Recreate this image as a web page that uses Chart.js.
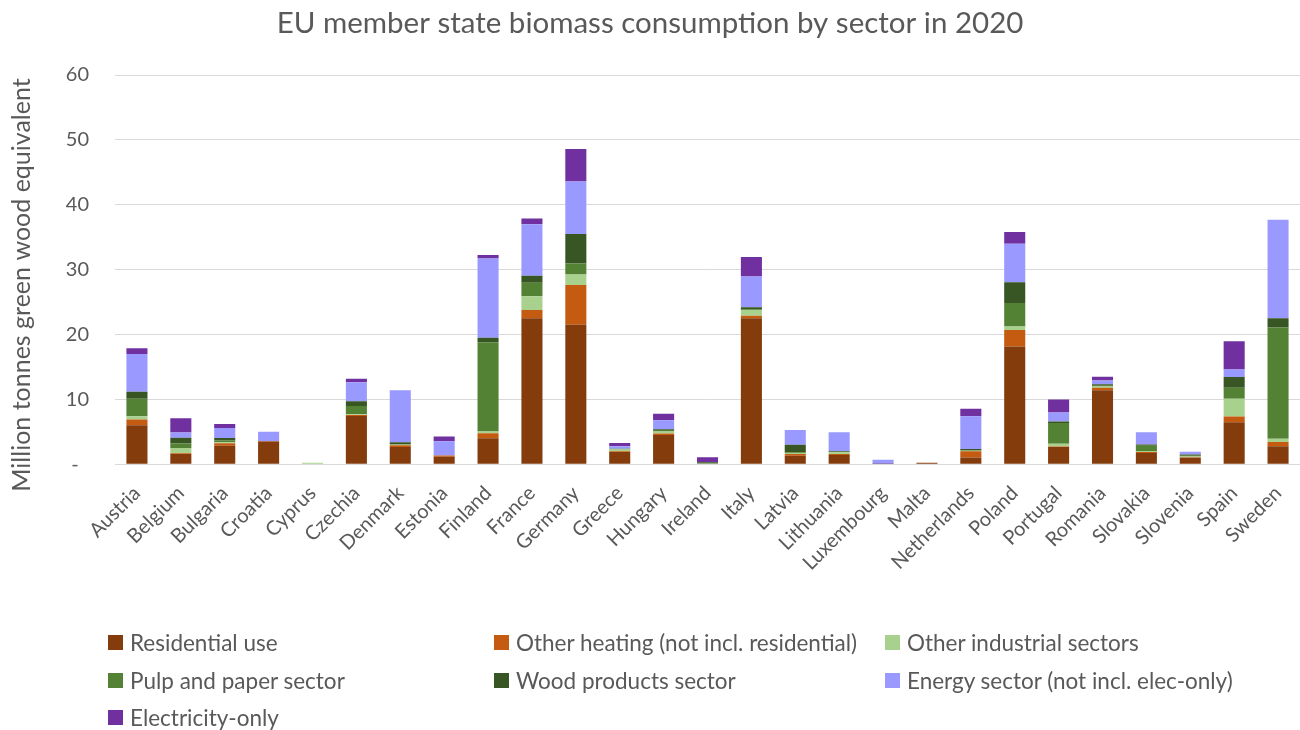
<!DOCTYPE html>
<html>
<head>
<meta charset="utf-8">
<script src="https://cdn.jsdelivr.net/npm/chart.js@4.4.1/dist/chart.umd.min.js"></script>
<style>
  html, body { margin: 0; padding: 0; background: #fff; }
  #wrap { position: relative; width: 1300px; height: 730px; }
  #legend { position: absolute; left: 0; top: 0; width: 1300px; height: 730px; pointer-events: none;
            font-family: Lato, "Open Sans", sans-serif; font-size: 22.5px; color: #595959; }
  .item { position: absolute; display: flex; align-items: center; white-space: nowrap; height: 30px; }
  .box { width: 15px; height: 15px; margin-right: 7px; flex: none; }
</style>
</head>
<body>
<div id="wrap">
  <canvas id="chart" width="1300" height="730"></canvas>
  <div id="legend"></div>
</div>
<script>
const countries = ["Austria","Belgium","Bulgaria","Croatia","Cyprus","Czechia","Denmark","Estonia","Finland","France","Germany","Greece","Hungary","Ireland","Italy","Latvia","Lithuania","Luxembourg","Malta","Netherlands","Poland","Portugal","Romania","Slovakia","Slovenia","Spain","Sweden"];

// Million tonnes green wood equivalent, by sector
const residential     = [6.0, 1.6, 2.85, 3.5, 0.0, 7.45, 2.65, 1.15, 4.0, 22.5, 21.5, 1.9, 4.5, 0.1, 22.5, 1.3, 1.45, 0.05, 0.25, 1.05, 18.15, 2.65, 11.4, 1.75, 1.0, 6.5, 2.8];
const otherHeating    = [0.9, 0.1, 0.4, 0.1, 0.0, 0.15, 0.3, 0.2, 0.8, 1.3, 6.15, 0.1, 0.25, 0.0, 0.4, 0.3, 0.15, 0.0, 0.0, 0.95, 2.55, 0.1, 0.4, 0.15, 0.1, 0.85, 0.65];
const otherIndustrial = [0.5, 0.8, 0.15, 0.0, 0.25, 0.1, 0.05, 0.0, 0.25, 2.1, 1.6, 0.3, 0.3, 0.0, 0.9, 0.15, 0.25, 0.0, 0.0, 0.1, 0.55, 0.4, 0.2, 0.15, 0.1, 2.75, 0.5];
const pulpPaper       = [2.7, 0.7, 0.3, 0.0, 0.0, 1.3, 0.1, 0.0, 13.75, 2.1, 1.7, 0.1, 0.25, 0.05, 0.1, 0.1, 0.1, 0.0, 0.0, 0.1, 3.6, 3.2, 0.1, 0.8, 0.1, 1.7, 17.15];
const woodProducts    = [1.1, 0.9, 0.35, 0.0, 0.0, 0.7, 0.3, 0.0, 0.7, 1.05, 4.55, 0.0, 0.1, 0.15, 0.3, 1.15, 0.1, 0.0, 0.0, 0.15, 3.2, 0.25, 0.25, 0.2, 0.2, 1.65, 1.4];
const energySector    = [5.8, 0.8, 1.55, 1.4, 0.0, 2.95, 8.0, 2.2, 12.2, 7.95, 8.1, 0.4, 1.4, 0.0, 4.75, 2.3, 2.9, 0.65, 0.0, 5.05, 5.95, 1.4, 0.55, 1.9, 0.45, 1.15, 15.2];
const electricityOnly = [0.9, 2.2, 0.6, 0.0, 0.0, 0.55, 0.0, 0.75, 0.55, 0.9, 5.0, 0.5, 1.0, 0.8, 3.0, 0.0, 0.0, 0.0, 0.0, 1.15, 1.8, 2.0, 0.6, 0.0, 0.0, 4.35, 0.0];

const seriesLabels = ["Residential use", "Other heating (not incl. residential)", "Other industrial sectors",
                      "Pulp and paper sector", "Wood products sector", "Energy sector (not incl. elec-only)", "Electricity-only"];
const seriesColors = ["#843C0C", "#C55A11", "#A9D18E", "#548235", "#375623", "#9999FF", "#7030A0"];
const seriesData = [residential, otherHeating, otherIndustrial, pulpPaper, woodProducts, energySector, electricityOnly];

const yTicks = [0, 10, 20, 30, 40, 50, 60];
const yAxisTitle = "Million tonnes green wood equivalent";

const FONT = "Lato, 'Open Sans', sans-serif";
const GREY = "#595959";

const datasets = seriesLabels.map((label, i) => ({
  label,
  data: seriesData[i],
  backgroundColor: seriesColors[i],
  borderWidth: 0,
  barPercentage: 0.48,
  categoryPercentage: 1.0
}));

// Vertical axis title, centred a little below the middle of the plot
const yTitlePlugin = {
  id: "yTitle",
  afterDraw(chart) {
    const ctx = chart.ctx;
    ctx.save();
    ctx.translate(22, 285);
    ctx.rotate(-Math.PI / 2);
    ctx.font = "25px " + FONT;
    ctx.fillStyle = GREY;
    ctx.textAlign = "center";
    ctx.textBaseline = "middle";
    ctx.fillText(yAxisTitle, 0, 0);
    ctx.restore();
  }
};

new Chart(document.getElementById("chart"), {
  type: "bar",
  data: { labels: countries, datasets },
  plugins: [yTitlePlugin],
  options: {
    responsive: false,
    animation: false,
    layout: { padding: { left: 0, right: 0, top: 0, bottom: 138 } },
    plugins: {
      legend: { display: false },
      tooltip: { enabled: false },
      title: {
        display: true,
        text: "EU member state biomass consumption by sector in 2020",
        color: GREY,
        font: { family: FONT, size: 29.5, weight: "normal" },
        padding: { top: 6, bottom: 33.6 }
      }
    },
    scales: {
      x: {
        stacked: true,
        grid: { display: false, drawTicks: false },
        border: { display: true, color: "#d9d9d9", width: 1 },
        ticks: {
          color: GREY, font: { family: FONT, size: 20 },
          maxRotation: 45, minRotation: 45, autoSkip: false, padding: 17
        },
        afterFit: (axis) => { axis.paddingLeft = 0; axis.paddingRight = 0; }
      },
      y: {
        stacked: true,
        min: 0, max: 60,
        afterBuildTicks: (axis) => { axis.ticks = yTicks.map(v => ({ value: v })); },
        afterFit: (axis) => { axis.width = 115; },
        grid: { color: "#d9d9d9", lineWidth: 1, drawTicks: false },
        border: { display: false },
        ticks: {
          color: GREY, font: { family: FONT, size: 20 }, padding: 26,
          callback: (v) => v === 0 ? "-  " : String(v)
        }
      }
    }
  }
});

// Three-column legend below the plot
const legendEl = document.getElementById("legend");
const colX = [108, 494, 885];
const rowY = [643, 681, 718];
seriesLabels.forEach((label, i) => {
  const item = document.createElement("div");
  item.className = "item";
  item.style.left = colX[i % 3] + "px";
  item.style.top = (rowY[Math.floor(i / 3)] - 16) + "px";
  const box = document.createElement("span");
  box.className = "box";
  box.style.background = seriesColors[i];
  const txt = document.createElement("span");
  txt.textContent = label;
  item.appendChild(box);
  item.appendChild(txt);
  legendEl.appendChild(item);
});
</script>
</body>
</html>
